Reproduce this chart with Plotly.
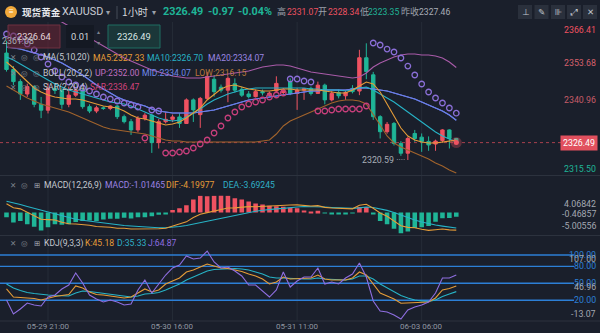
import plotly.graph_objects as go

W, H = 600, 333

# ---------------- data ----------------
TIME_TICKS = [6, 24, 42, 60]
TIME_LABELS = ["05-29 21:00", "05-30 16:00", "05-31 11:00", "06-03 06:00"]

OPEN = [2356.9, 2351.3, 2347.2, 2343.0, 2345.5, 2339.5, 2337.5, 2344.9, 2344.2, 2339.5,
        2342.6, 2344.3, 2338.7, 2337.2, 2338.3, 2338.1, 2338.9, 2335.3, 2333.6, 2330.8,
        2334.7, 2335.8, 2326.5, 2333.6, 2334.4, 2335.2, 2333.0, 2341.0, 2336.0, 2341.5,
        2348.0, 2345.3, 2344.3, 2346.5, 2344.6, 2343.0, 2342.1, 2343.8, 2342.6, 2344.0,
        2343.5, 2347.2, 2343.2, 2344.3, 2344.9, 2343.2, 2346.0, 2341.0, 2343.5, 2342.4,
        2344.9, 2344.0, 2355.3, 2349.5, 2335.3, 2330.2, 2333.0, 2326.2, 2322.9, 2329.6,
        2328.34, 2326.9, 2326.0, 2327.2, 2330.8, 2327.9]
HIGH = [2361.08, 2352.5, 2348.0, 2346.5, 2346.0, 2342.0, 2346.6, 2346.0, 2345.0, 2345.5,
        2345.0, 2344.6, 2339.5, 2339.0, 2338.8, 2339.2, 2339.2, 2336.0, 2334.5, 2335.5,
        2336.5, 2336.2, 2334.5, 2336.8, 2336.0, 2336.5, 2341.5, 2341.5, 2342.0, 2350.5,
        2349.2, 2346.2, 2349.0, 2348.3, 2345.5, 2344.0, 2344.5, 2344.5, 2343.8, 2349.0,
        2345.0, 2348.3, 2345.0, 2345.0, 2345.5, 2347.2, 2346.5, 2344.0, 2344.5, 2344.0,
        2346.0, 2358.0, 2360.2, 2350.5, 2335.8, 2333.5, 2333.5, 2327.0, 2328.5, 2330.8,
        2329.6, 2328.6, 2327.5, 2331.07, 2331.0, 2328.0]
LOW = [2350.6, 2346.0, 2341.0, 2342.0, 2338.5, 2334.8, 2336.4, 2343.0, 2338.0, 2338.5,
       2342.0, 2338.0, 2336.5, 2336.5, 2337.6, 2337.5, 2334.5, 2333.0, 2329.1, 2330.0,
       2334.0, 2323.0, 2324.5, 2333.0, 2333.5, 2331.5, 2332.8, 2333.5, 2331.5, 2341.0,
       2342.1, 2343.5, 2340.2, 2343.5, 2342.0, 2341.5, 2341.8, 2342.5, 2342.2, 2343.5,
       2342.8, 2342.6, 2337.6, 2341.0, 2342.5, 2343.0, 2339.5, 2340.5, 2341.5, 2341.0,
       2343.2, 2342.6, 2348.0, 2334.2, 2327.9, 2329.5, 2325.5, 2322.0, 2320.59, 2326.8,
       2323.35, 2323.7, 2323.7, 2326.5, 2324.5, 2326.2]
CLOSE = [2351.3, 2347.2, 2343.0, 2345.5, 2339.5, 2337.5, 2344.9, 2344.2, 2339.5, 2342.6,
         2344.3, 2338.7, 2337.2, 2338.3, 2338.1, 2338.9, 2335.3, 2333.6, 2330.8, 2334.7,
         2335.8, 2326.5, 2333.6, 2334.4, 2335.2, 2333.0, 2341.0, 2337.6, 2341.5, 2348.9,
         2343.8, 2344.3, 2348.3, 2344.3, 2342.6, 2342.1, 2343.8, 2343.4, 2343.3, 2346.6,
         2344.4, 2343.2, 2344.3, 2344.8, 2343.2, 2346.0, 2341.0, 2343.2, 2342.4, 2343.5,
         2343.8, 2355.3, 2350.6, 2335.3, 2330.2, 2332.7, 2326.2, 2322.9, 2327.9, 2327.9,
         2326.9, 2325.7, 2327.0, 2330.8, 2327.9, 2326.49]

MA5 = [2353.85, 2351.82, 2349.44, 2347.06, 2345.03, 2343.67, 2342.65, 2341.97, 2341.63, 2341.29,
       2341.29, 2340.96, 2340.28, 2339.60, 2338.92, 2338.58, 2338.24, 2337.22, 2335.86, 2334.85,
       2334.51, 2333.83, 2333.15, 2332.47, 2332.81, 2333.49, 2334.85, 2336.54, 2338.24, 2340.96,
       2342.99, 2344.69, 2345.71, 2346.05, 2345.37, 2344.69, 2344.35, 2344.01, 2344.01, 2344.35,
       2344.69, 2344.69, 2344.35, 2344.35, 2344.35, 2344.35, 2344.01, 2343.67, 2343.33, 2343.33,
       2344.35, 2345.71, 2347.06, 2346.39, 2343.67, 2339.60, 2335.52, 2331.45, 2328.74, 2327.38,
       2326.70, 2326.36, 2326.36, 2326.70, 2327.04, 2327.33]
MA10 = [2355.55, 2354.53, 2353.17, 2351.82, 2350.46, 2349.10, 2347.74, 2346.39, 2345.37, 2344.35,
        2343.67, 2342.99, 2342.31, 2341.63, 2340.96, 2340.28, 2339.94, 2339.60, 2338.92, 2337.90,
        2336.88, 2335.86, 2334.85, 2334.17, 2333.83, 2334.17, 2335.18, 2336.54, 2337.90, 2339.60,
        2340.96, 2341.97, 2342.99, 2343.67, 2344.35, 2344.69, 2345.03, 2345.03, 2345.03, 2345.03,
        2345.03, 2345.03, 2345.03, 2345.03, 2344.69, 2344.69, 2344.35, 2344.35, 2344.35, 2344.01,
        2344.35, 2345.03, 2345.37, 2344.35, 2342.99, 2341.63, 2340.28, 2338.58, 2336.88, 2335.18,
        2333.49, 2331.79, 2330.09, 2328.74, 2327.72, 2326.70]
MA20 = [2358.94, 2358.60, 2358.26, 2357.59, 2356.91, 2356.23, 2355.55, 2354.53, 2353.51, 2352.16,
        2350.80, 2349.44, 2347.74, 2346.05, 2344.69, 2343.33, 2341.97, 2340.96, 2340.28, 2339.60,
        2338.92, 2337.90, 2337.22, 2336.88, 2336.54, 2336.54, 2336.54, 2336.54, 2336.88, 2337.22,
        2337.56, 2338.24, 2338.92, 2339.60, 2340.28, 2340.96, 2341.29, 2341.63, 2341.97, 2342.31,
        2342.65, 2342.99, 2343.33, 2343.67, 2344.01, 2344.01, 2344.35, 2344.35, 2344.35, 2344.35,
        2344.69, 2345.03, 2345.03, 2344.69, 2344.35, 2344.01, 2343.33, 2342.65, 2341.97, 2341.29,
        2340.28, 2339.26, 2338.24, 2337.22, 2335.86, 2334.07]
BOLL_UP = [2372.18, 2371.84, 2371.50, 2370.82, 2370.48, 2369.80, 2369.13, 2368.45, 2367.43, 2366.07,
           2364.71, 2363.36, 2362.00, 2360.64, 2359.28, 2357.93, 2356.57, 2355.21, 2354.19, 2353.17,
           2352.16, 2351.14, 2350.46, 2349.78, 2349.10, 2348.76, 2348.42, 2348.42, 2348.42, 2348.76,
           2349.10, 2349.44, 2349.78, 2350.12, 2350.46, 2350.80, 2351.48, 2352.16, 2352.49, 2352.83,
           2352.83, 2352.49, 2351.82, 2351.14, 2350.46, 2350.12, 2349.78, 2349.44, 2349.10, 2348.76,
           2348.42, 2348.76, 2350.12, 2352.16, 2353.51, 2354.53, 2355.55, 2356.23, 2356.57, 2356.57,
           2356.23, 2356.23, 2355.89, 2355.21, 2353.85, 2352.00]
BOLL_MID = MA20
BOLL_LOW = [2345.71, 2344.35, 2342.99, 2341.63, 2340.62, 2339.60, 2338.92, 2338.24, 2337.56, 2336.88,
            2335.86, 2334.85, 2333.83, 2332.81, 2331.79, 2331.11, 2330.77, 2330.43, 2330.09, 2329.75,
            2329.41, 2328.74, 2328.06, 2327.38, 2327.04, 2327.04, 2326.70, 2326.70, 2326.70, 2326.70,
            2326.70, 2326.70, 2326.70, 2326.70, 2326.70, 2326.70, 2326.70, 2327.04, 2327.38, 2329.41,
            2332.13, 2333.83, 2334.85, 2335.86, 2336.88, 2337.90, 2338.92, 2339.94, 2340.62, 2340.96,
            2340.96, 2340.62, 2339.60, 2336.20, 2332.47, 2328.74, 2326.36, 2325.00, 2323.99, 2322.97,
            2321.95, 2320.93, 2319.57, 2318.56, 2317.20, 2316.15]
SAR = [2363.36, 2362.68, 2361.66, 2359.96, 2357.93, 2355.55, 2353.17, 2350.80, 2348.76, 2347.06,
       2346.05, 2345.03, 2344.01, 2342.99, 2341.97, 2341.29, 2340.62, 2339.94, 2339.26, 2338.58,
       2328.06, 2337.56, 2337.22, 2322.97, 2322.97, 2323.31, 2323.65, 2324.66, 2326.02, 2327.38,
       2329.75, 2332.13, 2334.85, 2336.88, 2338.58, 2339.60, 2340.28, 2340.96, 2341.97, 2342.65,
       2343.33, 2348.08, 2348.08, 2347.40, 2347.06, 2337.22, 2337.22, 2337.56, 2337.90, 2337.90,
       2337.90, 2337.90, 2338.92, 2360.30, 2359.62, 2358.26, 2357.25, 2355.21, 2352.49, 2349.44,
       2346.39, 2343.67, 2341.63, 2339.94, 2338.24, 2336.47]

MACD_HIST = [-1.13, -2.41, -2.04, -2.79, -3.39, -4.30, -3.54, -2.79, -2.94, -2.79,
             -2.26, -2.04, -1.89, -2.04, -1.66, -1.51, -1.51, -1.28, -1.43, -1.13,
             -1.13, -0.90, -0.53, -0.23, 0.60, 0.98, 1.73, 3.09, 4.00, 3.85,
             4.00, 4.06842, 4.00, 3.39, 3.09, 2.64, 2.11, 1.89, 1.58, 1.51,
             1.36, 1.13, 0.98, 0.50, 0.20, 0.40, -0.20, -0.30, -0.30, -0.30,
             -0.20, 1.30, 1.30, -0.40, -2.00, -2.80, -3.90, -5.00556, -4.50, -3.70,
             -3.50, -3.20, -2.20, -1.40, -1.30, -1.01465]
DIF = [2.10, 1.13, 0.86, 0.03, -0.73, -1.63, -1.70, -1.78, -2.31, -2.69,
       -2.76, -2.88, -3.03, -3.33, -3.36, -3.52, -3.75, -3.74, -3.93, -3.90,
       -4.01, -4.00, -3.89, -3.74, -3.25, -2.84, -2.23, -1.21, -0.42, -0.04,
       0.37, 0.74, 1.05, 1.09, 1.28, 1.39, 1.35, 1.47, 1.54, 1.62,
       1.65, 1.77, 1.80, 1.68, 1.53, 1.63, 1.21, 1.05, 0.94, 0.82,
       0.87, 1.74, 1.96, 1.00, -0.10, -0.90, -1.95, -3.15, -3.55, -3.65,
       -4.00, -4.25, -4.10, -3.95, -4.15, -4.19977]
DEA = [2.67, 2.33, 1.88, 1.43, 0.97, 0.52, 0.07, -0.38, -0.84, -1.29,
       -1.63, -1.86, -2.08, -2.31, -2.53, -2.76, -2.99, -3.10, -3.21, -3.33,
       -3.44, -3.55, -3.62, -3.62, -3.55, -3.33, -3.10, -2.76, -2.42, -1.97,
       -1.63, -1.29, -0.95, -0.61, -0.27, 0.07, 0.29, 0.52, 0.75, 0.86,
       0.97, 1.20, 1.31, 1.43, 1.43, 1.43, 1.31, 1.20, 1.09, 0.97,
       0.97, 1.09, 1.31, 1.20, 0.90, 0.50, 0.00, -0.65, -1.30, -1.80,
       -2.25, -2.65, -3.00, -3.25, -3.50, -3.69245]

K = [40.0, 25.8, 24.9, 24.1, 23.2, 20.5, 24.1, 26.7, 28.5, 30.2,
     45.3, 41.7, 34.7, 30.2, 29.4, 27.6, 25.8, 24.1, 25.8, 32.9,
     40.0, 34.7, 38.2, 48.8, 54.1, 59.4, 70.0, 73.5, 78.8, 84.1,
     80.6, 77.1, 76.2, 73.5, 70.9, 66.5, 62.9, 57.6, 48.8, 52.3,
     61.2, 57.6, 58.5, 58.5, 59.4, 64.7, 57.6, 55.9, 55.9, 55.9,
     59.4, 70.0, 64.7, 48.8, 32.9, 27.6, 22.3, 14.7, 15.2, 15.2,
     16.1, 17.0, 24.1, 38.2, 40.9, 45.18]
D = [48.8, 41.7, 37.3, 33.8, 32.0, 30.2, 29.4, 28.5, 27.6, 27.6,
     32.9, 36.4, 35.5, 33.8, 32.0, 30.2, 28.5, 26.7, 25.8, 27.6,
     31.1, 32.0, 33.8, 38.2, 43.5, 48.8, 55.9, 61.2, 66.5, 71.8,
     74.4, 75.3, 76.2, 76.2, 75.3, 73.5, 70.0, 66.5, 61.2, 59.4,
     59.4, 58.5, 57.6, 57.6, 57.6, 59.4, 57.6, 56.8, 55.9, 55.9,
     57.6, 62.9, 62.9, 57.6, 48.8, 41.7, 34.7, 28.5, 24.1, 20.5,
     18.8, 17.9, 20.5, 26.7, 31.1, 35.33]
J = [20.5, -4.2, 4.6, 15.2, 11.7, 9.9, 25.8, 29.4, 40.0, 47.0,
     68.2, 50.6, 29.4, 22.3, 17.0, 20.5, 17.0, 11.7, 13.5, 38.2,
     55.9, 32.9, 48.8, 64.7, 77.1, 82.4, 98.3, 93.0, 94.7, 107.0,
     87.7, 77.1, 78.8, 71.8, 62.9, 47.0, 47.0, 36.4, 25.8, 38.2,
     70.0, 43.5, 54.1, 61.2, 61.2, 77.1, 48.8, 52.3, 48.8, 59.4,
     66.5, 85.9, 61.2, 18.8, 1.1, -0.7, -6.0, -13.07, 2.9, 8.2,
     11.7, 17.0, 32.9, 59.4, 59.4, 64.87]
KDJ_LEVELS = [100, 80, 50, 20]

PRICE_TICKS = [2366.41, 2353.68, 2340.96, 2315.50]
MACD_TICKS = [4.06842, -0.46857, -5.00556]
KDJ_TICKS = [107.00, 46.96, -13.07]
LOW_MARK = 2320.59
HIGH_MARK = 2361.08

# ---------------- style ----------------
BG = "#1a1f2b"
RED = "#ef5261"
GREEN = "#1fb597"
C_MA5 = "#e59c38"
C_MA10 = "#27b3c6"
C_MA20 = "#6a7ee8"
C_UP = "#a95ba9"
C_LOW = "#a1632c"
C_SAR_UP = "#8b6fd8"
C_SAR_DN = "#c93f7c"
C_J = "#8e6ee0"
C_LEVEL = "#2c7fd6"
TXT = "#c4c8cf"
GREY = "#9aa0aa"
GRID = "#262c38"
SEP = "#2c323e"
SANS = "Roboto, sans-serif"
CJK = "Noto Sans CJK SC, sans-serif"
SYM = "DejaVu Sans, sans-serif"

N = len(CLOSE)
idx = list(range(N))


def px(x):
    return x / W


def py(y):
    return 1 - y / H


fig = go.Figure()

# main pane: candles + overlays
fig.add_trace(go.Candlestick(
    x=idx, open=OPEN, high=HIGH, low=LOW, close=CLOSE,
    increasing=dict(line=dict(color=RED, width=1), fillcolor=RED),
    decreasing=dict(line=dict(color=GREEN, width=1), fillcolor=GREEN),
    whiskerwidth=0, xaxis="x", yaxis="y", hoverinfo="skip"))

for series, col in [(BOLL_UP, C_UP), (BOLL_LOW, C_LOW), (BOLL_MID, C_MA20),
                    (MA20, C_MA20), (MA10, C_MA10), (MA5, C_MA5)]:
    fig.add_trace(go.Scatter(x=idx, y=series, mode="lines", yaxis="y",
                             line=dict(color=col, width=1.1), hoverinfo="skip"))

sar_cols = [C_SAR_UP if s > c else C_SAR_DN for s, c in zip(SAR, CLOSE)]
fig.add_trace(go.Scatter(x=idx, y=SAR, mode="markers", yaxis="y", hoverinfo="skip",
                         marker=dict(symbol="circle-open", size=5.5, color=sar_cols,
                                     line=dict(width=1.3))))

# pulse on the latest price
fig.add_trace(go.Scatter(x=[idx[-1]], y=[CLOSE[-1]], mode="markers", yaxis="y",
                         hoverinfo="skip",
                         marker=dict(size=11, color="rgba(239,82,97,0.30)")))
fig.add_trace(go.Scatter(x=[idx[-1]], y=[CLOSE[-1]], mode="markers", yaxis="y",
                         hoverinfo="skip", marker=dict(size=5, color=RED)))

# MACD pane
fig.add_trace(go.Bar(x=idx, y=MACD_HIST, yaxis="y2", width=0.66, hoverinfo="skip",
                     marker=dict(color=[RED if v >= 0 else GREEN for v in MACD_HIST],
                                 line=dict(width=0))))
fig.add_trace(go.Scatter(x=idx, y=DEA, mode="lines", yaxis="y2",
                         line=dict(color=C_MA10, width=1.1), hoverinfo="skip"))
fig.add_trace(go.Scatter(x=idx, y=DIF, mode="lines", yaxis="y2",
                         line=dict(color=C_MA5, width=1.1), hoverinfo="skip"))

# KDJ pane
for series, col in [(D, C_MA10), (K, C_MA5), (J, C_J)]:
    fig.add_trace(go.Scatter(x=idx, y=series, mode="lines", yaxis="y3",
                             line=dict(color=col, width=1.1), hoverinfo="skip"))

shapes = []
# time grid
for t in TIME_TICKS:
    shapes.append(dict(type="line", xref="x", yref="paper", x0=t, x1=t,
                       y0=py(321), y1=py(22), line=dict(color=GRID, width=1), layer="below"))
# pane separators
for yy in [175.5, 235.5, 321]:
    shapes.append(dict(type="line", xref="paper", yref="paper", x0=0, x1=1,
                       y0=py(yy), y1=py(yy), line=dict(color=SEP, width=1), layer="below"))
# last price guide
shapes.append(dict(type="line", xref="paper", yref="y", x0=0, x1=px(566),
                   y0=CLOSE[-1], y1=CLOSE[-1], line=dict(color="#a8404e", width=1, dash="dot"),
                   layer="below"))
# KDJ reference levels
for lv in KDJ_LEVELS:
    shapes.append(dict(type="line", xref="paper", yref="y3", x0=0, x1=px(574),
                       y0=lv, y1=lv, line=dict(color=C_LEVEL, width=1.4), layer="below"))
# order boxes
shapes.append(dict(type="rect", xref="paper", yref="paper", x0=px(8), x1=px(60),
                   y0=py(48), y1=py(25), fillcolor="rgba(110,36,52,0.55)",
                   line=dict(color="#6e3040", width=1)))
shapes.append(dict(type="rect", xref="paper", yref="paper", x0=px(66), x1=px(94),
                   y0=py(48), y1=py(25), fillcolor="#141923", line=dict(width=0)))
shapes.append(dict(type="rect", xref="paper", yref="paper", x0=px(108), x1=px(160),
                   y0=py(48), y1=py(25), fillcolor="#1b3739",
                   line=dict(color="#1f6f62", width=1)))
# header
shapes.append(dict(type="circle", xref="paper", yref="paper", x0=px(5), x1=px(17),
                   y0=py(18), y1=py(6), fillcolor="#f2a93a", line=dict(width=0)))
shapes.append(dict(type="line", xref="paper", yref="paper", x0=px(117), x1=px(117),
                   y0=py(19), y1=py(6), line=dict(color="#454c59", width=1)))
for x0 in [518, 534.5, 551, 567, 583]:
    shapes.append(dict(type="rect", xref="paper", yref="paper", x0=px(x0), x1=px(x0 + 14),
                       y0=py(19), y1=py(5), fillcolor="#2a303c", line=dict(width=0)))

ann = []


def text(x, y, s, color, size, anchor="left", family=SANS, bold=False):
    ann.append(dict(xref="paper", yref="paper", x=px(x), y=py(y), text=s,
                    xanchor=anchor, yanchor="middle", showarrow=False,
                    font=dict(color=color, size=size, family=family,
                              weight=700 if bold else 400)))


# header texts
text(11, 12, "≡", "#ffffff", 8, anchor="center")
text(20, 12, "现货黄金", "#e7e9ed", 9.6, family=CJK, bold=True)
text(60, 12, "XAUUSD", "#c9ccd3", 10.8)
text(107.5, 12.5, "▾", "#9aa0aa", 8, anchor="center", family=SYM)
text(120, 12, "1小时", "#d2d5db", 10.2, family=CJK)
text(154, 12.5, "▾", "#9aa0aa", 8, anchor="center", family=SYM)
text(161, 12, "2326.49", GREEN, 10.8, bold=True)
text(206, 12, "-0.97", GREEN, 10.8, bold=True)
text(236, 12, "-0.04%", GREEN, 10.8, bold=True)
text(275, 12, "高", GREY, 9, family=CJK)
text(285, 12, "2331.07", RED, 8.6)
text(316, 12, "开", GREY, 9, family=CJK)
text(326, 12, "2328.34", RED, 8.6)
text(358, 12, "低", GREY, 9, family=CJK)
text(366, 12, "2323.35", GREEN, 8.6)
text(399, 12, "昨收", GREY, 9, family=CJK)
text(417, 12, "2327.46", "#a9aeb7", 8.6)
for cx, g in zip([525, 541.5, 558, 574, 590], ["⊥", "✎", "⊪", "⤢", "✕"]):
    text(cx, 12, g, "#c3c7ce", 8.5, anchor="center", family=SYM)

# order boxes
text(34, 36.5, "2326.64", "#e2d3d7", 9.3, anchor="center")
text(80, 36.5, "0.01", "#d3d6dc", 9.3, anchor="center")
text(98.5, 31, "▴", "#7c828d", 6, anchor="center", family=SYM)
text(98.5, 42, "▾", "#7c828d", 6, anchor="center", family=SYM)
text(134, 36.5, "2326.49", "#d9e6e4", 9.3, anchor="center")

# indicator legends
for yy in [58, 73, 87, 185, 243]:
    text(13, yy, "✕", "#80868f", 7.5, anchor="center", family=SYM)
    text(24, yy, "◎", "#80868f", 7.5, anchor="center", family=SYM)
for yy in [58, 73, 87]:
    text(36, yy, "◎", "#80868f", 7.5, anchor="center", family=SYM)
for yy in [185, 243]:
    text(37, yy, "⊞", "#9aa0aa", 7.5, anchor="center", family=SYM)

LEG = 8.6
text(41, 58, "MA(5,10,20)", TXT, LEG)
text(91, 58, "MA5:2327.33", C_MA5, LEG)
text(145, 58, "MA10:2326.70", C_MA10, LEG)
text(206, 58, "MA20:2334.07", "#9a86e2", LEG)
text(41, 73, "BOLL(20,2,2)", TXT, LEG)
text(93, 73, "UP:2352.00", "#c070c2", LEG)
text(140, 73, "MID:2334.07", "#6f88ea", LEG)
text(193, 73, "LOW:2316.15", "#b8773a", LEG)
text(41, 87, "SAR(2,20,4)", TXT, LEG)
text(88, 87, "SAR:2336.47", "#d2437c", LEG)

text(42, 185, "MACD(12,26,9)", TXT, LEG)
text(103, 185, "MACD:-1.01465", "#9a82e2", LEG)
text(164, 185, "DIF:-4.19977", C_MA5, LEG)
text(221, 185, "DEA:-3.69245", "#2fb0c8", LEG)

text(42, 243, "KDJ(9,3,3)", TXT, LEG)
text(83, 243, "K:45.18", C_MA5, LEG)
text(115, 243, "D:35.33", "#2fb0c8", LEG)
text(146, 243, "J:64.87", C_J, LEG)


def axis_label(val, s, yref, color, shift=0.0, bg=None):
    d = dict(xref="paper", yref=yref, x=px(598), y=val, text=s, xanchor="right",
             yanchor="middle", yshift=shift, showarrow=False,
             font=dict(color=color, size=8.8, family=SANS))
    if bg:
        d.update(bgcolor=bg, borderpad=2)
    ann.append(d)


price_cols = [RED, "#d5606c", "#c65c68", GREEN]
price_shift = [-5, 0, 0, 6.5]
for v, c, s in zip(PRICE_TICKS, price_cols, price_shift):
    axis_label(v, f"{v:.2f}", "y", c, s)
axis_label(CLOSE[-1], f"{CLOSE[-1]:.2f}", "y", "#ffffff", bg="#e1505e")

for v, s in zip(MACD_TICKS, [-9, 0, 7]):
    axis_label(v, f"{v:.5f}", "y2", "#a3a8b1", s)
for v in KDJ_LEVELS:
    axis_label(v, f"{v:.2f}", "y3", C_LEVEL)
for v, s in zip(KDJ_TICKS, [-8, -2, 5]):
    axis_label(v, f"{v:.2f}", "y3", "#a3a8b1", s)

# extreme price marks
ann.append(dict(xref="x", yref="y", x=LOW.index(LOW_MARK), y=LOW_MARK,
                text=f"{LOW_MARK:.2f} ····", xanchor="right", yanchor="middle",
                xshift=-1, showarrow=False,
                font=dict(color="#a9aeb7", size=8.8, family=SANS)))
ann.append(dict(xref="x", yref="y", x=HIGH.index(HIGH_MARK), y=HIGH_MARK,
                text=f"{HIGH_MARK:.2f}", xanchor="left", yanchor="middle",
                xshift=-7, showarrow=False,
                font=dict(color="#a9aeb7", size=8.8, family=SANS)))

# time axis labels
for t, s in zip(TIME_TICKS, TIME_LABELS):
    ann.append(dict(xref="x", yref="paper", x=t, y=py(326), text=s, xanchor="center",
                    yanchor="middle", showarrow=False,
                    font=dict(color="#8f95a0", size=8, family=SANS)))

axis_common = dict(showgrid=False, zeroline=False, showticklabels=False, ticks="",
                   showline=False, fixedrange=True)
fig.update_layout(
    width=W, height=H, margin=dict(l=0, r=0, t=0, b=0),
    paper_bgcolor=BG, plot_bgcolor="rgba(0,0,0,0)",
    showlegend=False, barmode="overlay",
    xaxis=dict(domain=[0, 1], range=[-0.939, 85.77], anchor="y3",
               rangeslider=dict(visible=False), **axis_common),
    yaxis=dict(domain=[py(175), py(22)], range=[2315.50, 2367.435], **axis_common),
    yaxis2=dict(domain=[py(233.5), py(195.4)], range=[-5.00556, 4.06842], **axis_common),
    yaxis3=dict(domain=[py(320), py(250)], range=[-14.81, 108.87], **axis_common),
    shapes=shapes, annotations=ann,
)

fig.write_html("out.html")
